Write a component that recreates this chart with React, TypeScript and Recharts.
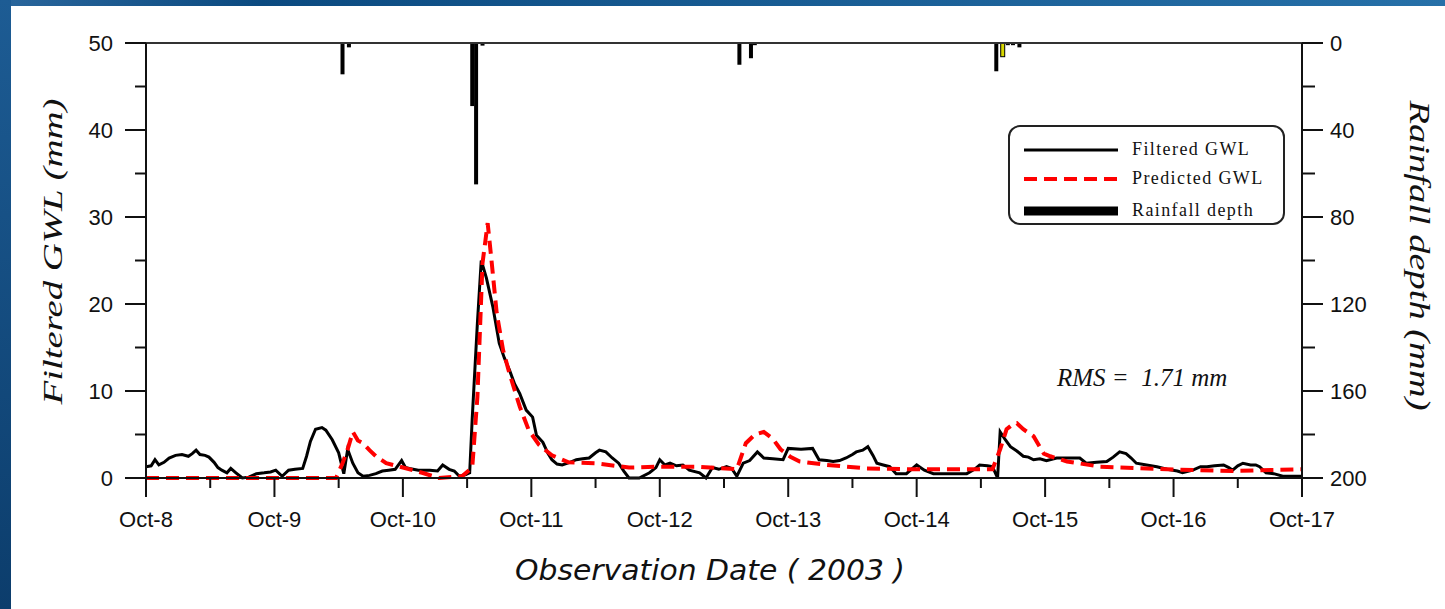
import React from "react";
import {
  ComposedChart,
  Line,
  Bar,
  Cell,
  XAxis,
  YAxis,
  Legend,
  ReferenceLine,
  Label,
} from "recharts";

// time is in days after Oct-8 00:00, GWL in mm, rainfall in mm
const filteredGwl: [number, number][] = [
  [0, 1.3], [0.04, 1.4], [0.07, 2.1], [0.1, 1.5], [0.14, 1.8], [0.18, 2.3], [0.23, 2.6],
  [0.28, 2.7], [0.33, 2.5], [0.36, 2.8], [0.39, 3.2], [0.42, 2.7], [0.46, 2.6], [0.49, 2.4],
  [0.53, 1.8], [0.56, 1.2], [0.59, 0.9], [0.63, 0.6], [0.66, 1.1], [0.7, 0.6], [0.75, 0],
  [0.8, 0.1], [0.86, 0.5], [0.92, 0.6], [0.97, 0.7], [1.01, 0.9], [1.06, 0.2], [1.11, 0.9],
  [1.16, 1.0], [1.22, 1.1], [1.25, 2.5], [1.28, 4.2], [1.32, 5.6], [1.37, 5.8], [1.4, 5.5],
  [1.45, 4.4], [1.5, 2.9], [1.54, 0.5], [1.57, 3.3], [1.61, 1.7], [1.65, 0.6], [1.69, 0.2],
  [1.74, 0.3], [1.79, 0.5], [1.84, 0.8], [1.89, 0.9], [1.94, 1.0], [1.99, 2.0], [2.02, 1.2],
  [2.05, 1.1], [2.12, 0.9], [2.21, 0.9], [2.27, 0.8], [2.31, 1.5], [2.36, 1.0], [2.4, 0.8],
  [2.44, 0.2], [2.49, 0.4], [2.52, 0.6], [2.54, 6.9], [2.58, 17.8], [2.61, 25.0], [2.65, 23.0],
  [2.7, 19.7], [2.75, 15.5], [2.79, 13.8], [2.83, 12.4], [2.87, 10.8], [2.91, 9.7], [2.96, 7.8],
  [3.01, 7.0], [3.04, 4.9], [3.09, 4.1], [3.13, 2.8], [3.16, 2.1], [3.2, 1.6], [3.24, 1.5],
  [3.3, 1.8], [3.35, 2.1], [3.4, 2.2], [3.45, 2.3], [3.5, 2.9], [3.53, 3.2], [3.58, 3.0],
  [3.63, 2.3], [3.68, 1.7], [3.72, 0.8], [3.76, 0], [3.84, 0], [3.92, 0.6], [3.97, 1.2],
  [4.0, 2.1], [4.04, 1.5], [4.08, 1.7], [4.13, 1.4], [4.18, 1.5], [4.23, 0.9], [4.31, 0.6],
  [4.36, 0], [4.41, 1.2], [4.46, 1.0], [4.52, 1.3], [4.56, 1.1], [4.6, 0.2], [4.65, 1.7],
  [4.7, 2.0], [4.76, 3.0], [4.81, 2.3], [4.88, 2.2], [4.96, 2.1], [5.0, 3.4], [5.1, 3.3],
  [5.19, 3.4], [5.24, 2.1], [5.3, 2.0], [5.35, 1.9], [5.4, 2.0], [5.45, 2.3], [5.5, 2.7],
  [5.53, 3.0], [5.58, 3.2], [5.62, 3.6], [5.66, 2.6], [5.69, 1.7], [5.74, 1.5], [5.79, 1.3],
  [5.84, 0.5], [5.92, 0.5], [6.0, 1.5], [6.06, 0.9], [6.13, 0.5], [6.25, 0.5], [6.39, 0.5],
  [6.45, 1.0], [6.49, 1.5], [6.55, 1.4], [6.59, 1.3], [6.63, 0], [6.65, 5.3], [6.69, 4.4],
  [6.73, 3.6], [6.78, 3.1], [6.83, 2.5], [6.87, 2.4], [6.91, 2.1], [6.96, 2.2], [7.01, 2.0],
  [7.09, 2.3], [7.18, 2.3], [7.27, 2.3], [7.32, 1.7], [7.4, 1.8], [7.48, 1.9], [7.53, 2.4],
  [7.58, 3.0], [7.63, 2.8], [7.67, 2.3], [7.71, 1.7], [7.79, 1.5], [7.87, 1.3], [7.95, 1.0],
  [8.03, 0.8], [8.07, 0.6], [8.15, 0.9], [8.21, 1.3], [8.26, 1.3], [8.32, 1.4], [8.39, 1.5],
  [8.43, 1.2], [8.46, 0.9], [8.5, 1.4], [8.54, 1.7], [8.6, 1.5], [8.64, 1.5], [8.67, 1.3],
  [8.72, 0.6], [8.78, 0.5], [8.85, 0.2], [8.92, 0.2], [9.0, 0.2],
];

const predictedGwl: [number, number][] = [
  [0, 0], [1.48, 0], [1.53, 1.7], [1.57, 3.3], [1.61, 5.3], [1.65, 4.3], [1.69, 4.0],
  [1.74, 3.2], [1.79, 2.5], [1.87, 1.7], [2.0, 1.2], [2.15, 0.6], [2.28, 0], [2.46, 0.2],
  [2.54, 1.2], [2.58, 9.3], [2.62, 24.7], [2.66, 29.3], [2.69, 25.0], [2.73, 19.0],
  [2.78, 14.7], [2.83, 12.0], [2.91, 8.2], [2.98, 5.5], [3.06, 3.8], [3.16, 2.6], [3.29, 1.8],
  [3.5, 1.7], [3.76, 1.2], [4.0, 1.3], [4.3, 1.3], [4.6, 1.0], [4.67, 4.0], [4.74, 5.0],
  [4.81, 5.3], [4.88, 4.5], [4.94, 3.3], [5.02, 2.4], [5.09, 1.9], [5.3, 1.5], [5.61, 1.1],
  [6.0, 1.0], [6.59, 1.0], [6.65, 3.3], [6.7, 5.6], [6.75, 6.2], [6.78, 6.3], [6.83, 5.6],
  [6.91, 4.8], [6.99, 2.8], [7.04, 2.5], [7.17, 1.9], [7.43, 1.3], [7.95, 1.0], [8.46, 0.8],
  [9.0, 1.0],
];

const rainfall: [number, number][] = [
  [1.53, 14.4], [1.58, 2.0], [2.54, 29], [2.57, 65], [2.62, 1.2],
  [4.62, 10], [4.71, 7], [4.74, 1],
  [6.62, 13], [6.67, 6.3], [6.71, 1], [6.75, 1], [6.8, 2],
];
const highlightedRainAt = 6.67;

const dateLabels = [
  "Oct-8", "Oct-9", "Oct-10", "Oct-11", "Oct-12",
  "Oct-13", "Oct-14", "Oct-15", "Oct-16", "Oct-17",
];
const gwlTicks = [0, 5, 10, 15, 20, 25, 30, 35, 40, 45, 50];
const rainTicks = [0, 20, 40, 60, 80, 100, 120, 140, 160, 180, 200];
const seriesNames = ["Filtered GWL", "Predicted GWL", "Rainfall depth"];

type Row = { t: number; filtered?: number; predicted?: number; rain?: number };

const table: Row[] = (() => {
  const rows = new Map<number, Row>();
  const row = (t: number) => {
    if (!rows.has(t)) rows.set(t, { t });
    return rows.get(t)!;
  };
  filteredGwl.forEach(([t, v]) => (row(t).filtered = v));
  predictedGwl.forEach(([t, v]) => (row(t).predicted = v));
  rainfall.forEach(([t, v]) => (row(t).rain = v));
  return [...rows.values()].sort((a, b) => a.t - b.t);
})();

const xTicks = dateLabels.flatMap((_, i) => (i < dateLabels.length - 1 ? [i, i + 0.5] : [i]));

const tickFont = { fontFamily: "'Liberation Sans', Arial, sans-serif", fontSize: 22, fill: "#111" };
const axisStroke = "#111";

const DateTick = (props: any) => {
  const { x, y, payload } = props;
  const v = payload.value as number;
  const major = Number.isInteger(v);
  return (
    <g>
      <line x1={x} x2={x} y1={y} y2={y + (major ? 19 : 10)} stroke={axisStroke} strokeWidth={2} />
      {major && (
        <text x={x} y={y + 41} textAnchor="middle" dominantBaseline="central" {...tickFont}>
          {dateLabels[v]}
        </text>
      )}
    </g>
  );
};

const GwlTick = (props: any) => {
  const { x, y, payload } = props;
  const v = payload.value as number;
  const major = v % 10 === 0;
  return (
    <g>
      <line x1={x - (major ? 21 : 11)} x2={x} y1={y} y2={y} stroke={axisStroke} strokeWidth={2} />
      {major && (
        <text x={x - 33} y={y} textAnchor="end" dominantBaseline="central" {...tickFont}>
          {v}
        </text>
      )}
    </g>
  );
};

const RainTick = (props: any) => {
  const { x, y, payload } = props;
  const v = payload.value as number;
  const major = v % 40 === 0;
  return (
    <g>
      <line x1={x} x2={x + (major ? 21 : 13)} y1={y} y2={y} stroke={axisStroke} strokeWidth={2} />
      {major && (
        <text x={x + 28} y={y} textAnchor="start" dominantBaseline="central" {...tickFont}>
          {v}
        </text>
      )}
    </g>
  );
};

// rain bars hang from the top axis; keep them a fixed 4px wide around the library's bar centre
const RainBar = (props: any) => {
  const { x, y, width, height, fill, stroke } = props;
  if (x == null || y == null || !height) return null;
  const top = Math.min(y, y + height);
  const h = Math.abs(height);
  const cx = x + width / 2;
  return <rect x={cx - 2} y={top} width={4} height={h} fill={fill} stroke={stroke} strokeWidth={1} />;
};

const titleFont = { fontFamily: "'Liberation Serif', 'Times New Roman', serif", fontStyle: "italic" as const, fill: "#111" };

const LeftTitle = (props: any) => {
  const { x, y, height } = props.viewBox;
  const cx = x - 34;
  const cy = y + height / 2 - 9;
  return (
    <text x={cx} y={cy} transform={`rotate(-90 ${cx} ${cy})`} textAnchor="middle" dominantBaseline="central"
      fontSize={28} textLength={306} lengthAdjust="spacingAndGlyphs" {...titleFont}>
      Filtered GWL (mm)
    </text>
  );
};

const RightTitle = (props: any) => {
  const { x, y, height } = props.viewBox;
  const cx = x + 118;
  const cy = y + height / 2 - 5;
  return (
    <text x={cx} y={cy} transform={`rotate(90 ${cx} ${cy})`} textAnchor="middle" dominantBaseline="central"
      fontSize={30} textLength={310} lengthAdjust="spacingAndGlyphs" {...titleFont}>
      Rainfall depth  (mm)
    </text>
  );
};

const BottomTitle = (props: any) => {
  const { x, y, width } = props.viewBox;
  return (
    <text x={x + width / 2 - 14} y={y + 92} textAnchor="middle" dominantBaseline="central"
      fontSize={28} textLength={390} lengthAdjust="spacingAndGlyphs"
      fontFamily="'DejaVu Sans', 'Liberation Sans', sans-serif" fontStyle="italic" fontWeight={300} fill="#111">
      Observation Date ( 2003 )
    </text>
  );
};

const LegendBox = (props: any) => {
  const items = [...(props.payload || [])].sort(
    (a: any, b: any) => seriesNames.indexOf(a.value) - seriesNames.indexOf(b.value)
  );
  return (
    <div
      style={{
        width: 277,
        height: 100,
        boxSizing: "border-box",
        border: "2px solid #222",
        borderRadius: 12,
        background: "#fff",
        paddingTop: 8,
      }}
    >
      {items.map((it: any) => {
        const isBar = it.type === "rect";
        const dash = it.payload?.strokeDasharray;
        return (
          <div key={it.value} style={{ display: "flex", alignItems: "center", height: 29, marginTop: isBar ? 3 : 0 }}>
            <svg width={110} height={14} style={{ marginLeft: 12 }}>
              <line x1={2} x2={96} y1={7} y2={7} stroke={it.color || "#000"}
                strokeWidth={isBar ? 9 : it.value === "Predicted GWL" ? 4 : 3}
                strokeDasharray={dash} />
            </svg>
            <span style={{ fontFamily: "'Liberation Serif', 'Times New Roman', serif", fontSize: 18, letterSpacing: 1.4, color: "#111" }}>
              {it.value}
            </span>
          </div>
        );
      })}
    </div>
  );
};

export default function App() {
  return (
    <div
      style={{
        position: "fixed",
        left: 0,
        top: 0,
        width: 1445,
        height: 609,
        overflow: "hidden",
        background: "linear-gradient(90deg, #2a669c 0%, #0b4a80 18%, #15588f 45%, #2670a8 100%)",
      }}
    >
      <div style={{ position: "absolute", left: 0, top: 0, width: 11, height: 609, background: "linear-gradient(180deg, #1d5c94 0%, #0c3d6c 100%)" }} />
      <div style={{ position: "absolute", left: 11, top: 6, right: 0, bottom: 0, background: "#fff" }} />
      <div style={{ position: "absolute", left: 0, top: 0 }}>
        <ComposedChart width={1445} height={609} data={table} margin={{ top: 43, right: 83, bottom: 71, left: 86 }}>
          <XAxis
            dataKey="t"
            type="number"
            domain={[0, 9]}
            ticks={xTicks}
            interval={0}
            tickSize={0}
            tickMargin={0}
            tick={<DateTick />}
            axisLine={{ stroke: axisStroke, strokeWidth: 2 }}
            height={60}
            allowDataOverflow
          >
            <Label content={<BottomTitle />} />
          </XAxis>
          <YAxis
            yAxisId="gwl"
            domain={[0, 50]}
            ticks={gwlTicks}
            interval={0}
            tickSize={0}
            tickMargin={0}
            tick={<GwlTick />}
            axisLine={{ stroke: axisStroke, strokeWidth: 2 }}
            width={60}
          >
            <Label content={<LeftTitle />} />
          </YAxis>
          <YAxis
            yAxisId="rain"
            orientation="right"
            reversed
            domain={[0, 200]}
            ticks={rainTicks}
            interval={0}
            tickSize={0}
            tickMargin={0}
            tick={<RainTick />}
            axisLine={{ stroke: axisStroke, strokeWidth: 2 }}
            width={60}
          >
            <Label content={<RightTitle />} />
          </YAxis>
          <ReferenceLine yAxisId="gwl" y={50} stroke="#333" strokeWidth={2} />
          <Line
            yAxisId="gwl"
            dataKey="filtered"
            name="Filtered GWL"
            type="linear"
            stroke="#000"
            strokeWidth={3}
            dot={false}
            activeDot={false}
            connectNulls
            legendType="line"
            isAnimationActive={false}
          />
          <Line
            yAxisId="gwl"
            dataKey="predicted"
            name="Predicted GWL"
            type="linear"
            stroke="#ff0000"
            strokeWidth={4}
            strokeDasharray="13 7"
            dot={false}
            activeDot={false}
            connectNulls
            legendType="line"
            isAnimationActive={false}
          />
          <Bar
            yAxisId="rain"
            dataKey="rain"
            name="Rainfall depth"
            fill="#000"
            shape={<RainBar />}
            legendType="rect"
            isAnimationActive={false}
          >
            {table.map((r) => (
              <Cell
                key={r.t}
                fill={r.t === highlightedRainAt ? "#d8d800" : "#000"}
                stroke={r.t === highlightedRainAt ? "#000" : "none"}
              />
            ))}
          </Bar>
          <Legend
            layout="vertical"
            align="center"
            verticalAlign="middle"
            content={<LegendBox />}
            wrapperStyle={{ left: 1008, top: 125, width: 277, height: 100 }}
          />
        </ComposedChart>
      </div>
      <div
        style={{
          position: "absolute",
          left: 1057,
          top: 364,
          fontFamily: "'Liberation Serif', 'Times New Roman', serif",
          fontStyle: "italic",
          fontSize: 25,
          color: "#111",
          whiteSpace: "pre",
        }}
      >
        RMS =  1.71 mm
      </div>
    </div>
  );
}
